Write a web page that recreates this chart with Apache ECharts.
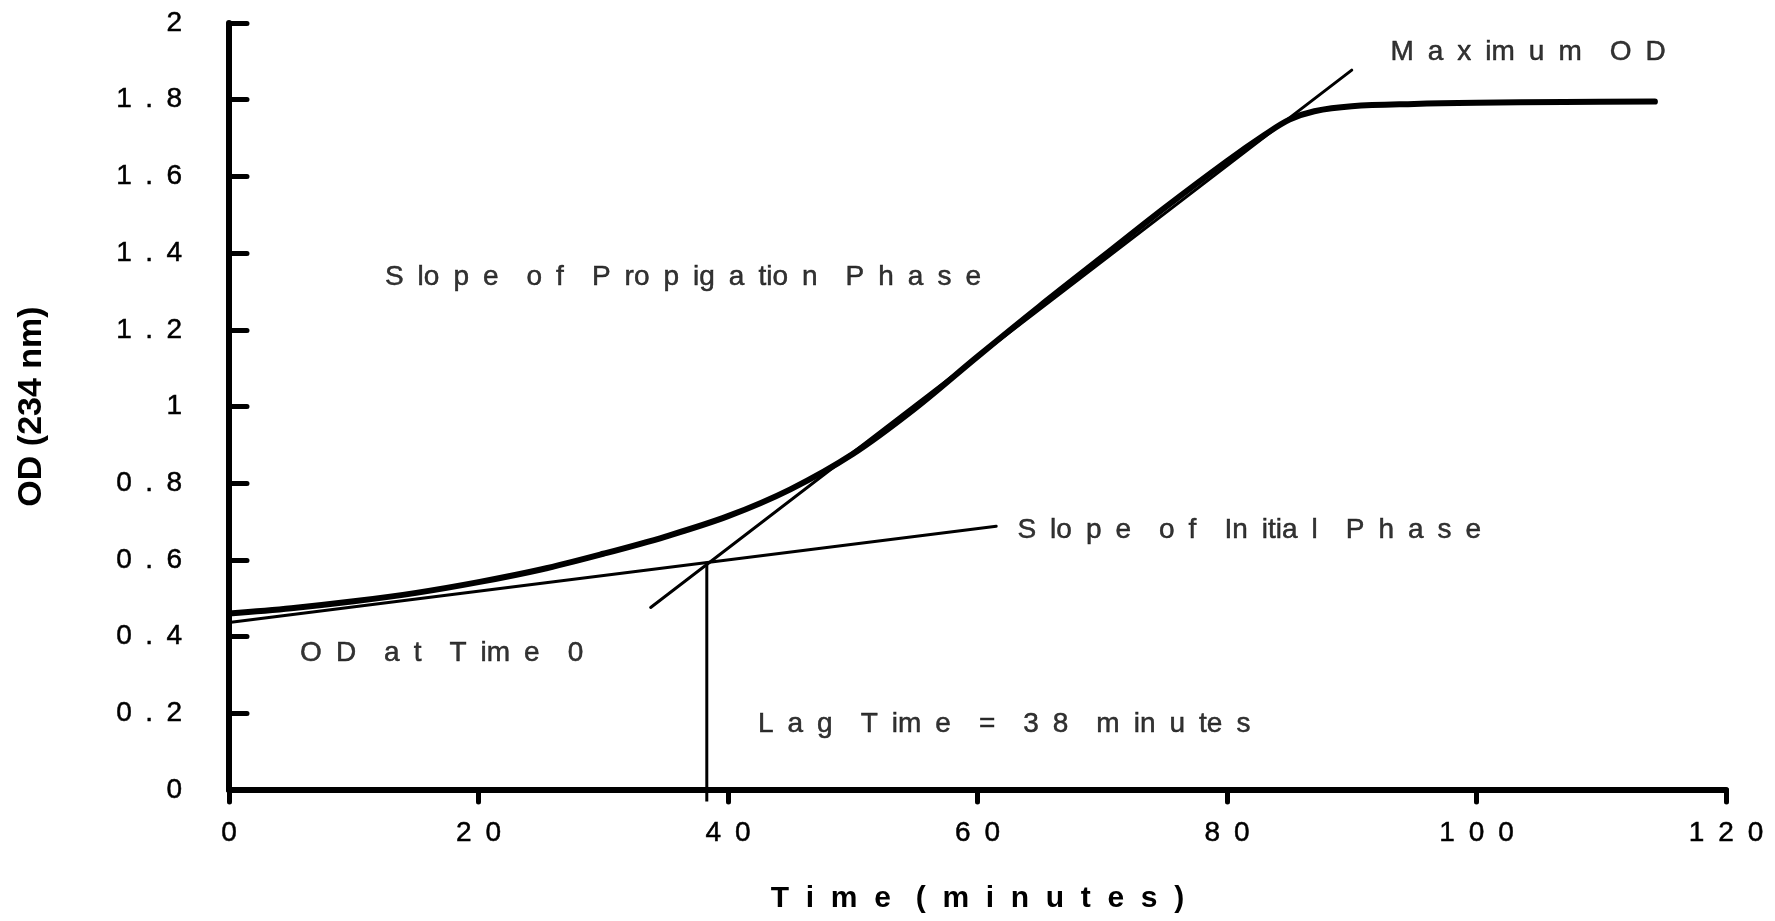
<!DOCTYPE html>
<html>
<head>
<meta charset="utf-8">
<script src="https://cdn.jsdelivr.net/npm/echarts@6/dist/echarts.min.js"></script>
<style>
  html, body { margin: 0; padding: 0; background: #fff; }
  #chart { width: 1775px; height: 921px; }
</style>
</head>
<body>
<div id="chart"></div>
<script>
// ---- Data ----
const timeMin = [0, 5, 10, 15, 20, 25, 30, 35, 40, 45, 50, 55, 60, 65, 70, 75, 80, 83, 85, 87, 90, 95, 100, 107, 114.3];
const odValues = [0.46, 0.474, 0.492, 0.514, 0.542, 0.575, 0.616, 0.661, 0.714, 0.784, 0.876, 0.995, 1.13, 1.262, 1.39, 1.518, 1.64, 1.708, 1.748, 1.77, 1.783, 1.789, 1.792, 1.794, 1.795];

const initialSlopeX = [0, 61.5];
const initialSlopeY = [0.437, 0.688];
const propSlopeX = [33.8, 90.0];
const propSlopeY = [0.476, 1.877];
const lagTimeX = [38.3, 38.3];
const lagTimeY = [0.595, -0.03];

const xTickLabels = ['0', '20', '40', '60', '80', '100', '120'];
const yTickLabels = ['0', '0.2', '0.4', '0.6', '0.8', '1', '1.2', '1.4', '1.6', '1.8', '2'];

const xAxisTitle = 'Time (minutes)';
const yAxisTitle = 'OD (234 nm)';

const annotationTexts = ['Maximum OD', 'Slope of Propigation Phase', 'Slope of Initial Phase', 'OD at Time 0', 'Lag Time = 38 minutes'];
// anchors (left edge, vertical middle) in data coordinates
const annotationAnchorX = [93.1, 12.5, 63.2, 5.7, 42.4];
const annotationAnchorY = [1.924, 1.338, 0.678, 0.357, 0.172];

// ---- Styling helpers (the reference prints its text letter-spaced) ----
const EN = '\u2002';
function spaced(s, gap, wordGap, narrow) {
  return s.split(' ').map(w => {
    const chars = Array.from(w);
    let out = '';
    chars.forEach((c, i) => {
      out += c;
      if (i < chars.length - 1 && !(narrow && narrow.indexOf(c) >= 0)) out += gap;
    });
    return out;
  }).join(wordGap);
}
const NARROW = 'iltfrI(';
const FONT = "'Liberation Sans', Arial, Helvetica, sans-serif";

const pairs = (xs, ys) => xs.map((x, i) => [x, ys[i]]);

const chart = echarts.init(document.getElementById('chart'), null, { renderer: 'canvas' });

const annotationData = annotationTexts.map((t, i) => ({
  value: [annotationAnchorX[i], annotationAnchorY[i]],
  name: t
}));

const heavy = { textBorderColor: '#000', textBorderWidth: 0.5 };

const option = {
  backgroundColor: '#ffffff',
  animation: false,
  grid: { left: 229, right: 49, top: 23, bottom: 131, containLabel: false },
  xAxis: {
    type: 'value', min: 0, max: 120, interval: 20,
    name: spaced(xAxisTitle, '  ', '   '),
    nameLocation: 'middle', nameGap: 94,
    nameTextStyle: { fontFamily: FONT, fontSize: 30, fontWeight: 'bold', color: '#000' },
    axisLine: { show: true, onZero: false, lineStyle: { color: '#000', width: 6, cap: 'round' } },
    axisTick: { show: true, inside: false, length: 12, lineStyle: { color: '#000', width: 5, cap: 'round' } },
    axisLabel: Object.assign({
      margin: 29, fontFamily: FONT, fontSize: 28, color: '#000',
      formatter: (v, i) => spaced(xTickLabels[i] !== undefined ? xTickLabels[i] : String(v), EN, EN)
    }, heavy),
    splitLine: { show: false }
  },
  yAxis: {
    type: 'value', min: 0, max: 2, interval: 0.2,
    name: yAxisTitle,
    nameLocation: 'middle', nameGap: 180, nameRotate: 90,
    nameTextStyle: { fontFamily: FONT, fontSize: 34, fontWeight: 'bold', color: '#000' },
    axisLine: { show: true, onZero: false, lineStyle: { color: '#000', width: 6, cap: 'round' } },
    axisTick: { show: true, inside: true, length: 18, lineStyle: { color: '#000', width: 5, cap: 'round' } },
    axisLabel: Object.assign({
      margin: 47, fontFamily: FONT, fontSize: 28, color: '#000',
      formatter: (v, i) => spaced(yTickLabels[i] !== undefined ? yTickLabels[i] : String(v), ' \u2009', ' \u2009')
    }, heavy),
    splitLine: { show: false }
  },
  series: [
    {
      name: 'OD', type: 'line', data: pairs(timeMin, odValues), smooth: 0.35,
      showSymbol: false, symbol: 'none',
      lineStyle: { color: '#000', width: 6, cap: 'round', join: 'round' }, z: 5
    },
    {
      name: 'Initial slope', type: 'line', data: pairs(initialSlopeX, initialSlopeY),
      showSymbol: false, symbol: 'none',
      lineStyle: { color: '#000', width: 3, cap: 'round' }, z: 4
    },
    {
      name: 'Propagation slope', type: 'line', data: pairs(propSlopeX, propSlopeY),
      showSymbol: false, symbol: 'none',
      lineStyle: { color: '#000', width: 3, cap: 'round' }, z: 4
    },
    {
      name: 'Lag time', type: 'line', data: pairs(lagTimeX, lagTimeY), clip: false,
      showSymbol: false, symbol: 'none',
      lineStyle: { color: '#000', width: 3, cap: 'butt' }, z: 4
    },
    {
      name: 'Annotations', type: 'scatter', data: annotationData, symbolSize: 0,
      silent: true, clip: false,
      label: Object.assign({
        show: true, position: 'right', distance: 0,
        fontFamily: FONT, fontSize: 28, color: '#000',
        formatter: p => spaced(p.name, EN, EN + EN, NARROW)
      }, heavy),
      z: 6
    }
  ]
};
chart.setOption(option);
</script>
</body>
</html>
